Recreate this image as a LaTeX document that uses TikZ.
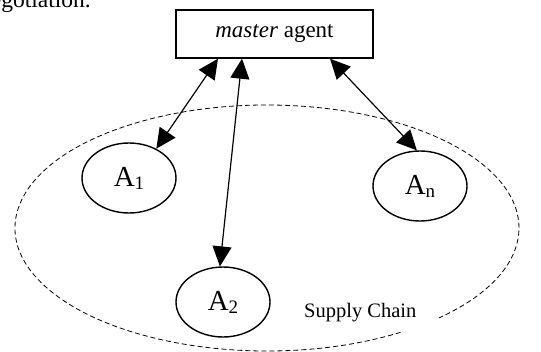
\documentclass[tikz,border=0pt]{standalone}
\usepackage{fontspec}
\setmainfont{Liberation Serif}
\usetikzlibrary{arrows.meta,shapes.geometric}
\newcommand{\agentlbl}[1]{{\fontsize{29}{30}\selectfont A\raisebox{-3pt}{\fontsize{19}{20}\selectfont #1}}}
\tikzset{
  agent/.style={draw, ellipse, line width=1.4pt, minimum width=94pt, minimum height=70pt, inner sep=0pt},
  masterbox/.style={draw, rectangle, line width=1.4pt, minimum width=197pt, minimum height=48pt, inner sep=0pt, font=\fontsize{23}{27}\selectfont},
  link/.style={line width=1.2pt, {Triangle[length=20pt,width=19pt]}-{Triangle[length=20pt,width=19pt]}},
  chain/.style={line width=0.8pt, dash pattern=on 5pt off 3pt}
}
\begin{document}
\begin{tikzpicture}[x=1pt,y=-1pt]
\useasboundingbox (0,0) rectangle (541,351);
\clip (0,0) rectangle (541,351);
% clipped running text above the figure
\node[anchor=base west, inner sep=0pt, font=\fontsize{23.5}{27}\selectfont] (para) at (-21,7) {negotiation.};
% supply chain boundary
\draw[chain] ([shift={(58:252 and 123)}]267,228) arc[start angle=58, end angle=407, x radius=252, y radius=123];
\node[anchor=west, inner sep=0pt, font=\fontsize{20.5}{24}\selectfont] (sc) at (304,313) {Supply Chain};
% nodes
\node[masterbox] (master) at (274.5,34) {\textit{master} agent};
\node[agent] (a1) at (129,178) {\agentlbl{1}};
\node[agent] (a2) at (223,302) {\agentlbl{2}};
\node[agent] (an) at (420,186) {\agentlbl{n}};
% connectors
\draw[link] ([xshift=-56.5pt]master.south) -- (a1.47);
\draw[link] ([xshift=-32.5pt]master.south) -- (a2.95);
\draw[link] ([xshift=55.5pt]master.south) -- (an.95);
\end{tikzpicture}
\end{document}
